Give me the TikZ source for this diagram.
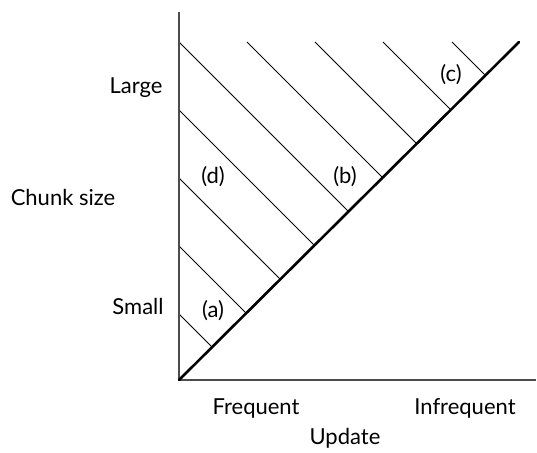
\documentclass[tikz,border=0pt]{standalone}
\usepackage{fontspec}
\setmainfont{Lato}
\usetikzlibrary{positioning}

\begin{document}
\begin{tikzpicture}[
  x=1pt, y=-1pt,
  axis/.style={draw=black!70, line width=1.2pt},
  hatch/.style={draw=black, line width=0.8pt},
  diag/.style={draw=black, line width=2.6pt},
  lbl/.style={font=\fontsize{22}{24}\selectfont, inner sep=0pt}
]
\useasboundingbox (0,0) rectangle (537,452);

\coordinate (origin) at (179,380);
\coordinate (ytop) at (179,12);
\coordinate (xend) at (536,380);
\coordinate (dend) at (519,42);

% hatching from the vertical axis
\foreach \y in {42,110,178,246,314}{
  \pgfmathsetmacro{\t}{(380-\y)/2}
  \draw[hatch] (179,\y) -- ++(\t,\t);
}
% hatching from the top
\foreach \x in {247,315,383,452}{
  \pgfmathsetmacro{\t}{(517-\x)/2}
  \draw[hatch] (\x,42) -- ++(\t,\t);
}

\draw[axis] (ytop) -- (origin) -- (xend);
\draw[diag, line cap=round] (origin) -- (dend);

\node[lbl] (large) at (136,88) {Large};
\node[lbl] (chunk) at (63,197) {Chunk size};
\node[lbl] (small) at (138,306) {Small};
\node[lbl] (freq) at (256,408) {Frequent};
\node[lbl] (infreq) at (465,408) {Infrequent};
\node[lbl] (update) at (345,438) {Update};

\node[lbl] (a) at (213,311) {(a)};
\node[lbl] (b) at (345,177) {(b)};
\node[lbl] (c) at (451,75) {(c)};
\node[lbl] (d) at (213,177) {(d)};
\end{tikzpicture}
\end{document}
